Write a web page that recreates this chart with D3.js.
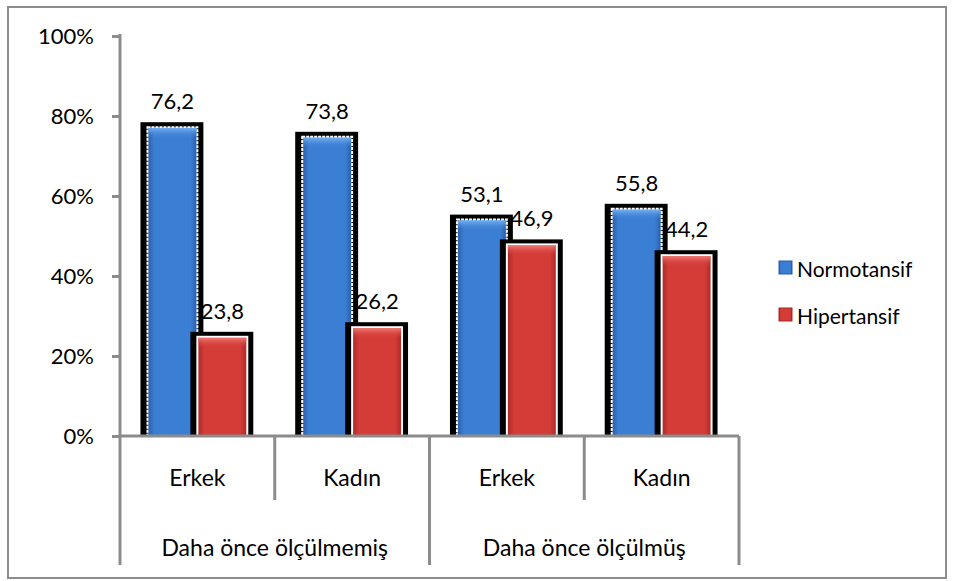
<!DOCTYPE html>
<html>
<head>
<meta charset="utf-8">
<script src="https://cdn.jsdelivr.net/npm/d3@7"></script>
<style>
  body { margin: 0; background: #fff; }
  text { font-family: Lato, "Open Sans", sans-serif; fill: #000; }
</style>
</head>
<body>
<div id="container"></div>
<script>
const categories = ['Erkek', 'Kadın', 'Erkek', 'Kadın'];
const groups = ['Daha önce ölçülmemiş', 'Daha önce ölçülmüş'];
const seriesNames = ['Normotansif', 'Hipertansif'];
const normotansif = [76.2, 73.8, 53.1, 55.8];
const hipertansif = [23.8, 26.2, 46.9, 44.2];
const yTicks = [0, 20, 40, 60, 80, 100];

const config = {
    width: 953,
    height: 581,
    left: 120,
    right: 739,
    top: 36,
    bottom: 436,
    fontSize: '22px',
}

const rows = categories.map((c, i) => ({
    idx: i,
    cat: c,
    values: [normotansif[i], hipertansif[i]]
}));

const svg = d3.select('#container')
    .append('svg')
    .attr('width', config.width)
    .attr('height', config.height)

const defs = svg.append('defs');
const colors = [
    {id: 'gBlue', edge: '#2a5ca6', mid: '#3b7fd4', light: '#74b0f0'},
    {id: 'gRed', edge: '#a82826', mid: '#d43c38', light: '#f07a74'},
];
colors.forEach(c => {
    const g = defs.append('linearGradient').attr('id', c.id)
        .attr('x1', 0).attr('x2', 1).attr('y1', 0).attr('y2', 0);
    g.append('stop').attr('offset', '0%').attr('stop-color', c.edge);
    g.append('stop').attr('offset', '14%').attr('stop-color', c.mid);
    g.append('stop').attr('offset', '86%').attr('stop-color', c.mid);
    g.append('stop').attr('offset', '100%').attr('stop-color', c.edge);
    const t = defs.append('linearGradient').attr('id', c.id + 'Top')
        .attr('x1', 0).attr('x2', 0).attr('y1', 0).attr('y2', 1);
    t.append('stop').attr('offset', '0%').attr('stop-color', c.light);
    t.append('stop').attr('offset', '100%').attr('stop-color', c.mid).attr('stop-opacity', 0);
});

// frame
svg.append('rect')
    .attr('x', 8).attr('y', 7)
    .attr('width', 938).attr('height', 571)
    .attr('fill', 'none')
    .attr('stroke', '#8c8c8c')
    .attr('stroke-width', 2)

const xScale = d3.scaleBand()
    .domain(d3.range(categories.length))
    .range([config.left, config.right])

const xInner = d3.scaleBand()
    .domain(seriesNames)
    .range([0, xScale.bandwidth()])
    .paddingOuter(0.55)

const yScale = d3.scaleLinear()
    .domain([0, 100])
    .range([config.bottom, config.top])

// y axis
const yAxis = svg.append('g')
    .attr('class', 'y-axis')
    .attr('transform', `translate(${config.left},0)`)
    .call(d3.axisLeft(yScale).tickValues(yTicks).tickSize(8).tickPadding(18).tickFormat(d => d + '%'))
yAxis.select('.domain').remove();
yAxis.selectAll('.tick line').attr('stroke', '#8c8c8c').attr('stroke-width', 3);
yAxis.selectAll('.tick text')
    .style('font-size', config.fontSize)
    .style('font-family', 'Lato, "Open Sans", sans-serif')
    .attr('fill', '#000');

// bars
const bars = svg.append('g').attr('class', 'bars');
rows.forEach(r => {
    const g = bars.append('g').attr('transform', `translate(${xScale(r.idx)},0)`);
    r.values.forEach((v, si) => {
        const x = xInner(seriesNames[si]);
        const w = xInner.bandwidth();
        const y = yScale(v) - 4;
        const h = config.bottom - y;
        const c = colors[si];
        g.append('rect')
            .attr('x', x - 7).attr('y', y - 5)
            .attr('width', w + 13).attr('height', h + 5)
            .attr('fill', '#000');
        g.append('rect')
            .attr('x', x).attr('y', y)
            .attr('width', w).attr('height', h)
            .attr('fill', `url(#${c.id})`)
            .attr('stroke', '#fff')
            .attr('stroke-width', 2)
            .attr('stroke-dasharray', si === 0 ? '3,1' : null);
        g.append('rect')
            .attr('x', x + 1).attr('y', y + 1)
            .attr('width', w - 2).attr('height', 10)
            .attr('fill', `url(#${c.id}Top)`);
    });
});

// value labels on top of everything
rows.forEach(r => {
    r.values.forEach((v, si) => {
        const x = xScale(r.idx) + xInner(seriesNames[si]) + xInner.bandwidth() / 2;
        svg.append('text')
            .attr('x', x)
            .attr('y', yScale(v) - 22)
            .attr('text-anchor', 'middle')
            .style('font-size', config.fontSize)
            .text(String(v).replace('.', ','));
    });
});

// x axis
const axisColor = '#8c8c8c';
const xa = svg.append('g').attr('class', 'x-axis');
xa.append('line')
    .attr('x1', config.left).attr('x2', config.right)
    .attr('y1', config.bottom).attr('y2', config.bottom)
    .attr('stroke', axisColor).attr('stroke-width', 3);
xa.append('line')
    .attr('x1', config.left).attr('x2', config.left)
    .attr('y1', config.top - 2).attr('y2', 565)
    .attr('stroke', axisColor).attr('stroke-width', 3);
d3.range(1, categories.length + 1).forEach(i => {
    const x = i === categories.length ? config.right : xScale(i);
    xa.append('line')
        .attr('x1', x).attr('x2', x)
        .attr('y1', config.bottom).attr('y2', i % 2 === 0 ? 565 : 500)
        .attr('stroke', axisColor).attr('stroke-width', 3);
});
xa.selectAll('text.cat')
    .data(rows)
    .join('text')
    .attr('class', 'cat')
    .attr('x', d => xScale(d.idx) + xScale.bandwidth() / 2)
    .attr('y', 486)
    .attr('text-anchor', 'middle')
    .style('font-size', '23px')
    .text(d => d.cat);
xa.selectAll('text.grp')
    .data(groups)
    .join('text')
    .attr('class', 'grp')
    .attr('x', (d, i) => xScale(i * 2) + xScale.bandwidth())
    .attr('y', 556)
    .attr('text-anchor', 'middle')
    .style('font-size', '23px')
    .text(d => d);

// legend
const legend = svg.append('g').attr('class', 'legend');
seriesNames.forEach((s, i) => {
    const y = 268 + i * 47;
    legend.append('rect')
        .attr('x', 779).attr('y', y - 7)
        .attr('width', 13).attr('height', 13)
        .attr('fill', `url(#${colors[i].id})`)
        .attr('stroke', colors[i].edge)
        .attr('stroke-width', 1);
    legend.append('text')
        .attr('x', 797).attr('y', y)
        .attr('dominant-baseline', 'central')
        .style('font-size', '21px')
        .text(s);
});
</script>
</body>
</html>
